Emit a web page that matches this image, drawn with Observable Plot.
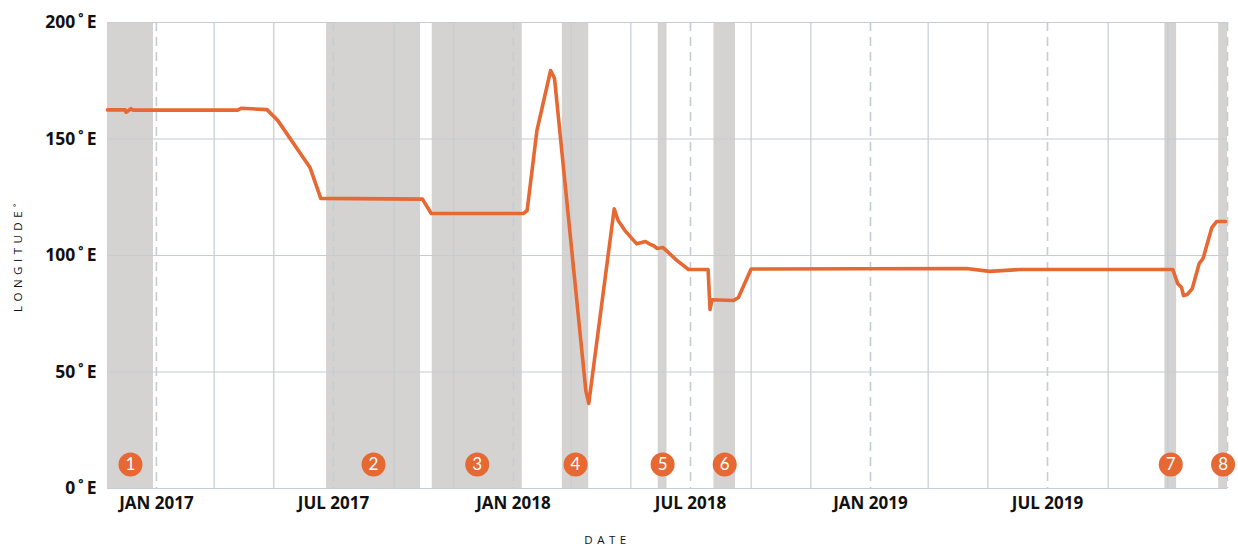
<!DOCTYPE html>
<html>
<head>
<meta charset="utf-8">
<script src="https://cdn.jsdelivr.net/npm/d3@7"></script>
<script src="https://cdn.jsdelivr.net/npm/@observablehq/plot@0.6"></script>
<style>
  html, body { margin: 0; padding: 0; background: #fff; }
  .spaced text { letter-spacing: 4.5px; }
</style>
</head>
<body>
<div id="chart"></div>
<script>
// Observation periods (shaded bands)
const periodLabels = ["1", "2", "3", "4", "5", "6", "7", "8"];
const periodStart = ["2016-11-12", "2017-06-24", "2017-10-10", "2018-02-20", "2018-05-29", "2018-07-25", "2019-10-29", "2019-12-23"];
const periodEnd   = ["2016-12-29", "2017-09-28", "2018-01-10", "2018-03-19", "2018-06-07", "2018-08-16", "2019-11-10", "2020-01-01"];

// Longitude series
const seriesDates = [
  "2016-11-12", "2016-11-30", "2016-12-01", "2016-12-06", "2016-12-08",
  "2017-03-25", "2017-03-29", "2017-04-24", "2017-05-05", "2017-06-07", "2017-06-18",
  "2017-09-30", "2017-10-09", "2018-01-11", "2018-01-15", "2018-01-25", "2018-02-08", "2018-02-12",
  "2018-03-16", "2018-03-19", "2018-04-14", "2018-04-18", "2018-04-25", "2018-05-07",
  "2018-05-16", "2018-05-21", "2018-05-24", "2018-05-28", "2018-06-03", "2018-06-17",
  "2018-06-29", "2018-07-19", "2018-07-21", "2018-07-23", "2018-08-14", "2018-08-19",
  "2018-09-01", "2019-04-09", "2019-05-03", "2019-06-03", "2019-11-06", "2019-11-11",
  "2019-11-15", "2019-11-17", "2019-11-21", "2019-11-26", "2019-12-03", "2019-12-07",
  "2019-12-16", "2019-12-21", "2019-12-30"
];
const seriesValues = [
  162.5, 162.5, 161.5, 163.0, 162.4,
  162.4, 163.2, 162.6, 158.0, 137.8, 124.5,
  124.2, 118.0, 118.0, 119.3, 153.6, 179.4, 176.0,
  42.0, 36.5, 120.0, 115.0, 110.7, 105.0,
  106.0, 104.7, 104.3, 103.0, 103.4, 97.9,
  94.0, 94.0, 76.8, 81.0, 80.7, 82.0,
  94.2, 94.4, 93.2, 94.0, 94.0, 88.0,
  86.3, 82.8, 83.3, 85.8, 96.5, 98.7,
  112.0, 114.6, 114.6
];

// Axis ticks and grid
const yTicks = [0, 50, 100, 150, 200];
const xLabelTicks = ["2017-01-01", "2017-07-01", "2018-01-01", "2018-07-01", "2019-01-01", "2019-07-01"];
const dashedGrid = ["2017-01-01", "2017-07-01", "2018-01-01", "2018-07-01", "2019-01-01", "2019-07-01", "2020-01-01"];
const solidGrid = ["2017-03-01", "2017-05-01", "2017-09-01", "2017-11-01", "2018-03-01", "2018-05-01",
                   "2018-09-01", "2018-11-01", "2019-03-01", "2019-05-01", "2019-09-01", "2019-11-01"];
const monthNames = ["JAN", "FEB", "MAR", "APR", "MAY", "JUN", "JUL", "AUG", "SEP", "OCT", "NOV", "DEC"];

const parse = d3.utcParse("%Y-%m-%d");
const periods = periodLabels.map((label, i) => {
  const s = parse(periodStart[i]), e = parse(periodEnd[i]);
  return {label, start: s, end: e, mid: new Date((+s + +e) / 2)};
});
const series = seriesDates.map((d, i) => ({date: parse(d), value: seriesValues[i]}));

const ORANGE = "#e66833";
const GRID = "#c5ccd2";
const FONT = "'Open Sans', Lato, sans-serif";

const chart = Plot.plot({
  width: 1238,
  height: 546,
  marginLeft: 107,
  marginRight: 11,
  marginTop: 22,
  marginBottom: 58,
  style: {fontFamily: FONT, background: "#fff"},
  x: {type: "utc", domain: [parse("2016-11-12"), parse("2020-01-01")]},
  y: {domain: [0, 200]},
  marks: [
    Plot.rect(periods, {x1: "start", x2: "end", fill: "#d4d3d2"}),
    Plot.ruleY(yTicks, {stroke: GRID, strokeWidth: 1.2}),
    Plot.ruleX(solidGrid.map(parse), {stroke: GRID, strokeWidth: 1.2}),
    Plot.ruleX(dashedGrid.map(parse), {stroke: GRID, strokeWidth: 1.6, strokeDasharray: "9,6"}),
    Plot.axisY({
      ticks: yTicks, tickSize: 0, tickPadding: 11, label: null,
      tickFormat: d => `${d}\u2009˚\u2009E`,
      fontSize: 17.5, fontWeight: "bold", fill: "#111"
    }),
    Plot.axisX({
      ticks: xLabelTicks.map(parse), tickSize: 0, tickPadding: 8, label: null,
      tickFormat: d => `${monthNames[d.getUTCMonth()]} ${d.getUTCFullYear()}`,
      fontSize: 17, fontWeight: "bold", fill: "#111"
    }),
    Plot.lineY(series, {x: "date", y: "value", stroke: ORANGE, strokeWidth: 3.6, strokeLinejoin: "round", strokeLinecap: "round"}),
    Plot.dot(periods, {x: "mid", frameAnchor: "bottom", dy: -24, r: 12, fill: ORANGE, stroke: "none"}),
    Plot.text(periods, {x: "mid", text: "label", frameAnchor: "bottom", lineAnchor: "middle", dy: -24, fill: "#fff", fontSize: 17, fontFamily: "Lato, sans-serif"}),
    Plot.text(["LONGITUDE˚"], {frameAnchor: "left", textAnchor: "middle", lineAnchor: "middle", dx: -89, rotate: -90, fontSize: 11.5, fill: "#111", className: "spaced"}),
    Plot.text(["DATE"], {frameAnchor: "bottom", textAnchor: "middle", lineAnchor: "middle", dx: -60, dy: 52, fontSize: 11.5, fill: "#111", className: "spaced"})
  ]
});
document.getElementById("chart").appendChild(chart);
</script>
</body>
</html>
